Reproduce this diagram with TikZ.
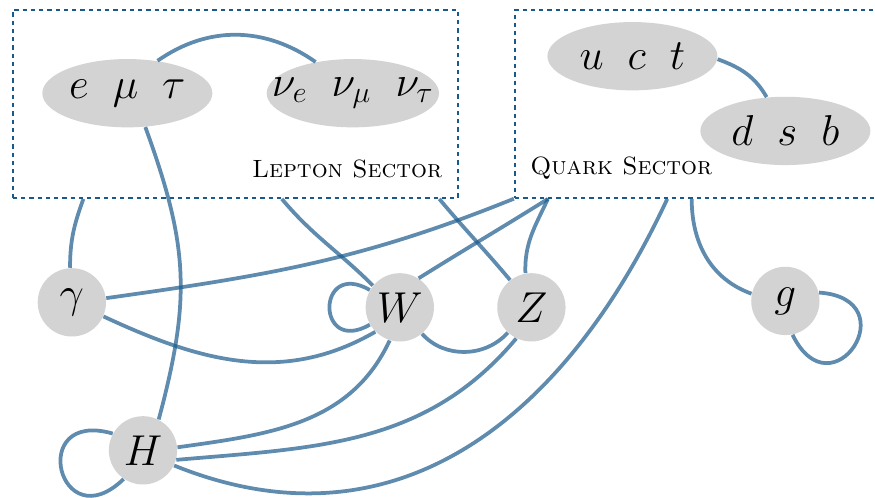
\documentclass[tikz,border=0pt]{standalone}
\usepackage{tikz}
\usetikzlibrary{shapes.geometric}
\definecolor{sectorblue}{RGB}{25,90,140}
\definecolor{partgray}{RGB}{211,211,211}

\begin{document}
\begin{tikzpicture}[font=\small,
 sector/.style={draw=sectorblue,dash pattern=on 1.7pt off 1.6pt,line width=0.9pt,inner sep=0pt},
 multiplet/.style={ellipse,fill=partgray,minimum width=2.39cm,minimum height=0.96cm,inner xsep=-8pt,inner ysep=0pt,font=\LARGE},
 boson/.style={circle,fill=partgray,minimum size=0.96cm,inner sep=0pt,font=\LARGE},
 link/.style={draw=sectorblue,draw opacity=0.7,line width=1.5pt}]
\useasboundingbox (0,0) rectangle (12.30,-7.00);
\node[sector,minimum width=6.26cm,minimum height=2.64cm] (lepton) at (3.31,-1.46) {};
\node[sector,minimum width=5.20cm,minimum height=2.64cm] (quark) at (9.84,-1.46) {};
\node[anchor=base east,font=\normalsize] (leplabel) at (6.34,-2.49) {\textsc{Lepton Sector}};
\node[anchor=base west,font=\normalsize] (quarklabel) at (7.33,-2.45) {\textsc{Quark Sector}};
\node[multiplet] (emt) at (1.79,-1.31) {$e\;\;\mu\;\;\tau$};
\node[multiplet] (nu) at (4.96,-1.31) {$\nu_e\;\;\nu_\mu\;\;\nu_\tau$};
\node[multiplet] (uct) at (8.89,-0.79) {$u\;\;c\;\;t$};
\node[multiplet] (dsb) at (11.04,-1.84) {$d\;\;s\;\;b$};
\node[boson] (gamma) at (1.01,-4.25) {$\gamma$};
\node[boson] (W) at (5.62,-4.32) {$W$};
\node[boson] (Z) at (7.47,-4.32) {$Z$};
\node[boson] (g) at (11.04,-4.23) {$g$};
\node[boson] (H) at (2.01,-6.33) {$H$};
\draw[link] (emt.47) to[out=35,in=145] (nu.140);
\draw[link] (uct.-2) to[out=-20,in=120] (dsb.119);
\draw[link] (emt.298) to[out=-70,in=75,looseness=1.1] (H.63);
\draw[link] (gamma.93) to[out=90,in=-110] (lepton.212);
\draw[link] (gamma.7) to[out=8,in=-158] (quark.207);
\draw[link] (gamma.-24) to[out=-25,in=210] (W.225);
\draw[link] (W.150) to[out=150,in=210,looseness=4.6] (W.210);
\draw[link] (lepton.296) to[out=-50,in=135] (W.141);
\draw[link] (quark.212) to[out=-148,in=32] (W.57);
\draw[link] (lepton.335) to[out=-50,in=130] (Z.128);
\draw[link] (quark.212) to[out=-115,in=92] (Z.100);
\draw[link] (W.-50) to[out=-48,in=-132] (Z.227);
\draw[link] (W.253) to[out=245,in=8] (H.5);
\draw[link] (Z.244) to[out=230,in=5] (H.-16);
\draw[link] (quark.251) to[out=-115,in=-22,looseness=1.1] (H.-26);
\draw[link] (quark.265) to[out=-90,in=160] (g.168);
\draw[link] (g.14) to[out=-4,in=-64,looseness=4.6] (g.-78);
\draw[link] (H.151) to[out=164,in=224,looseness=4.9] (H.236);
\end{tikzpicture}
\end{document}
